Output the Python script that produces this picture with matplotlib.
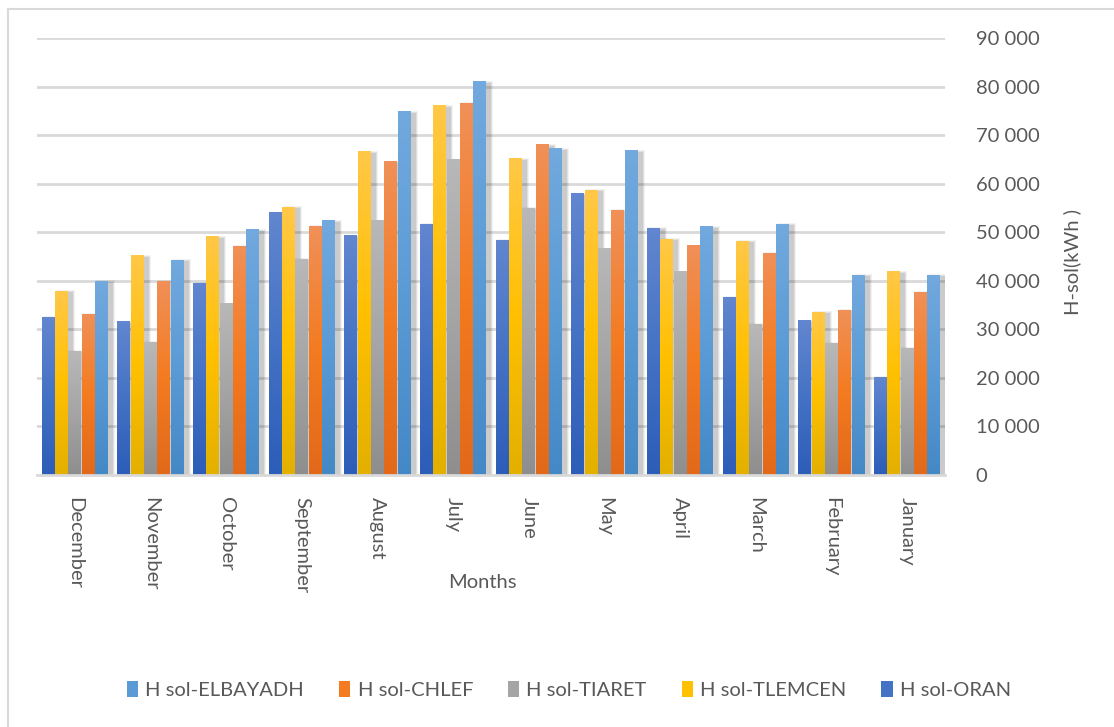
import numpy as np
import matplotlib
matplotlib.use("Agg")
import matplotlib.pyplot as plt
from matplotlib.patches import Rectangle, Patch
from matplotlib.lines import Line2D
from matplotlib.colors import LinearSegmentedColormap
from matplotlib.ticker import FuncFormatter

# Monthly solar irradiation per site (kWh)
months = ['December', 'November', 'October', 'September', 'August', 'July',
          'June', 'May', 'April', 'March', 'February', 'January']
oran = [32500, 31600, 39500, 54000, 49300, 51600, 48300, 57900, 50800, 36600, 31800, 20100]
tlemcen = [37800, 45200, 49100, 55100, 66600, 76000, 65100, 58600, 48600, 48100, 33500, 41900]
tiaret = [25500, 27300, 35300, 44400, 52400, 64900, 54900, 46600, 41900, 31000, 27100, 26100]
chlef = [33100, 39900, 47100, 51200, 64500, 76600, 68000, 54500, 47200, 45700, 33900, 37600]
elbayadh = [39900, 44200, 50500, 52400, 74800, 81000, 67200, 66800, 51100, 51600, 41100, 41100]

series = [
    ('H sol-ORAN', oran, ('#6286D0', '#4472C4', '#2C5DB8')),
    ('H sol-TLEMCEN', tlemcen, ('#FFC847', '#FFC000', '#E3B000')),
    ('H sol-TIARET', tiaret, ('#B8B8B8', '#A5A5A5', '#8E8E8E')),
    ('H sol-CHLEF', chlef, ('#F09058', '#F47B20', '#E2691A')),
    ('H sol-ELBAYADH', elbayadh, ('#72A9DE', '#5B9BD5', '#4488C6')),
]

txt = '#595959'
grid_c = '#D9D9D9'
plt.rcParams['font.family'] = ['Lato', 'DejaVu Sans']

W, H = 1114, 727
fig = plt.figure(figsize=(W / 100, H / 100), dpi=100)
x_left, x_right, y_top, y_bot = 37, 945, 38, 475
ax = fig.add_axes([x_left / W, 1 - y_bot / H, (x_right - x_left) / W, (y_bot - y_top) / H])

ymax = 90000
ax.set_xlim(-0.5, len(months) - 0.5)
ax.set_ylim(0, ymax)

# pixel -> data conversion for shadows
px_x = (len(months)) / (x_right - x_left)
px_y = ymax / (y_bot - y_top)

for v in range(10000, ymax + 1, 10000):
    ax.axhline(v, color=grid_c, lw=2.0, zorder=0.5)

step = 0.176
bw = 0.170
x = np.arange(len(months))
for i, (name, vals, cols) in enumerate(series):
    cmap = LinearSegmentedColormap.from_list(name, [cols[2], cols[1], cols[0]])
    grad = np.linspace(0, 1, 128).reshape(-1, 1)
    for j, v in enumerate(vals):
        x0 = x[j] + (i - 2) * step - bw / 2
        # soft drop shadow
        for k, a in zip((3, 2, 1), (0.05, 0.07, 0.09)):
            ax.add_patch(Rectangle((x0 + (2 - k) * px_x + 2 * px_x, 0),
                                   bw + 2 * k * px_x, v - 2 * px_y + k * px_y,
                                   facecolor='black', alpha=a, lw=0, zorder=1))
        ax.imshow(grad, extent=[x0, x0 + bw, 0, v], origin='lower', aspect='auto',
                  cmap=cmap, interpolation='bilinear', zorder=2)

ax.set_xlim(-0.5, len(months) - 0.5)
ax.set_ylim(0, ymax)
ax.set_aspect('auto')

for s in ['top', 'left', 'right']:
    ax.spines[s].set_visible(False)
ax.spines['bottom'].set_color(grid_c)
ax.spines['bottom'].set_linewidth(2.0)
ax.spines['bottom'].set_zorder(3)

ax.yaxis.tick_right()
ax.set_yticks(range(0, ymax + 1, 10000))
ax.yaxis.set_major_formatter(FuncFormatter(lambda v, p: f'{int(v):,}'.replace(',', ' ')))
ax.tick_params(axis='y', length=0, pad=22, labelsize=14.5, labelcolor=txt)
ax.set_xticks(x)
ax.set_xticklabels(months, rotation=-90, va='top', ha='center')
ax.tick_params(axis='x', length=0, pad=16, labelsize=14.5, labelcolor=txt)

fig.text(1072 / W, 1 - 262 / H, 'H-sol(kWh )', rotation=90, ha='center', va='center',
         fontsize=14.5, color=txt)
fig.text(482 / W, 1 - 583 / H, 'Months', ha='center', va='center', fontsize=14.5, color=txt)

handles = [Patch(facecolor=c[1], edgecolor='none') for _, _, c in series][::-1]
labels = [n for n, _, _ in series][::-1]
fig.legend(handles, labels, ncol=5, loc='center', bbox_to_anchor=(569 / W, 1 - 690 / H),
           frameon=False, fontsize=14.5, labelcolor=txt, handlelength=0.55, handleheight=0.8,
           handletextpad=0.35, columnspacing=1.75)

# chart frame
fig.add_artist(Line2D([8 / W, 8 / W], [0, 1 - 9 / H], color=grid_c, lw=1.5))
fig.add_artist(Line2D([8 / W, 1], [1 - 9 / H, 1 - 9 / H], color=grid_c, lw=1.5))

fig.savefig('out.png', dpi=100, facecolor='white')
